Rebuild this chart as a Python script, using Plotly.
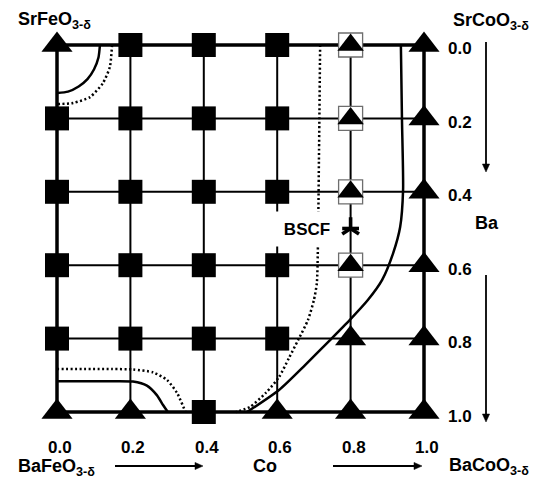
import plotly.graph_objects as go

# ---------------- data ----------------
co_levels = [0.0, 0.2, 0.4, 0.6, 0.8, 1.0]          # Co fraction (columns)
ba_levels = [0.0, 0.2, 0.4, 0.6, 0.8, 1.0]          # Ba fraction (rows, top -> bottom)
co_ticktext = ["0.0", "0.2", "0.4", "0.6", "0.8", "1.0"]
ba_ticktext = ["0.0", "0.2", "0.4", "0.6", "0.8", "1.0"]

# phase at each composition: S = filled square, T = triangle, B = triangle in open box
phase_rows = [
    ["T", "S", "S", "S", "B", "T"],   # Ba 0.0
    ["S", "S", "S", "S", "B", "T"],   # Ba 0.2
    ["S", "S", "S", "S", "B", "T"],   # Ba 0.4
    ["S", "S", "S", "S", "B", "T"],   # Ba 0.6
    ["S", "S", "S", "S", "T", "T"],   # Ba 0.8
    ["T", "T", "S", "T", "T", "T"],   # Ba 1.0
]

bscf_co = [0.8]
bscf_ba = [0.5]

# boundary curves (Co, Ba)
arc_solid_co = [0.117, 0.113, 0.101, 0.083, 0.059, 0.030, 0.0]
arc_solid_ba = [0.0, 0.034, 0.066, 0.093, 0.113, 0.127, 0.131]
arc_dot_co = [0.150, 0.144, 0.125, 0.090, 0.044, 0.0]
arc_dot_ba = [0.0, 0.060, 0.104, 0.142, 0.158, 0.161]

bl_solid_co = [0.0, 0.150, 0.207, 0.245, 0.272, 0.289, 0.302]
bl_solid_ba = [0.916, 0.916, 0.917, 0.928, 0.954, 0.981, 1.0]
bl_dot_co = [0.0, 0.150, 0.207, 0.262, 0.300, 0.327, 0.350]
bl_dot_ba = [0.883, 0.883, 0.884, 0.892, 0.913, 0.948, 1.0]

rs_co = [0.937, 0.940, 0.943, 0.935, 0.916, 0.886, 0.847, 0.798, 0.744, 0.676, 0.605, 0.518]
rs_ba = [0.0, 0.204, 0.395, 0.496, 0.567, 0.640, 0.695, 0.749, 0.804, 0.872, 0.940, 1.0]

rd_co = [0.717, 0.714, 0.711, 0.708, 0.700, 0.684, 0.657, 0.632, 0.605, 0.569, 0.526, 0.488]
rd_ba = [0.0, 0.286, 0.545, 0.649, 0.695, 0.749, 0.804, 0.853, 0.905, 0.948, 0.986, 1.0]

# ---------------- layout constants ----------------
W, H = 549, 479
PX = 367.0        # pixels per unit composition
OX, OY = 57.0, 45.0   # pixel position of Co=0 / Ba=0
FONT = "Liberation Sans, Arial, sans-serif"

def px(x):
    return x / W

def py(y):
    return 1 - y / H

fig = go.Figure()

# grid lines
inner_x, inner_y, border_x, border_y = [], [], [], []
for i, c in enumerate(co_levels):
    tx, ty = (border_x, border_y) if i in (0, len(co_levels) - 1) else (inner_x, inner_y)
    tx += [c, c, None]
    ty += [ba_levels[0], ba_levels[-1], None]
for j, b in enumerate(ba_levels):
    tx, ty = (border_x, border_y) if j in (0, len(ba_levels) - 1) else (inner_x, inner_y)
    tx += [co_levels[0], co_levels[-1], None]
    ty += [b, b, None]

fig.add_trace(go.Scatter(x=inner_x, y=inner_y, mode="lines",
                         line=dict(color="black", width=2), hoverinfo="skip"))
fig.add_trace(go.Scatter(x=border_x, y=border_y, mode="lines",
                         line=dict(color="black", width=3.5), hoverinfo="skip"))

# curves
DOT = "2px,2.5px"
for cx, cy, dash in [
    (arc_solid_co, arc_solid_ba, "solid"),
    (arc_dot_co, arc_dot_ba, DOT),
    (bl_solid_co, bl_solid_ba, "solid"),
    (bl_dot_co, bl_dot_ba, DOT),
    (rs_co, rs_ba, "solid"),
    (rd_co, rd_ba, DOT),
]:
    fig.add_trace(go.Scatter(x=cx, y=cy, mode="lines",
                             line=dict(color="black", width=2.5, dash=dash,
                                       shape="spline", smoothing=0.6),
                             hoverinfo="skip"))

# markers
sq_x, sq_y, tr_x, tr_y, bx_x, bx_y = [], [], [], [], [], []
for j, row in enumerate(phase_rows):
    for i, code in enumerate(row):
        c, b = co_levels[i], ba_levels[j]
        if code == "S":
            sq_x.append(c); sq_y.append(b)
        elif code == "T":
            tr_x.append(c); tr_y.append(b)
        else:
            bx_x.append(c); bx_y.append(b)

fig.add_trace(go.Scatter(x=sq_x, y=sq_y, mode="markers", cliponaxis=False,
                         marker=dict(symbol="square", size=24, color="black",
                                     line=dict(width=0))))
fig.add_trace(go.Scatter(x=bx_x, y=bx_y, mode="markers", cliponaxis=False,
                         marker=dict(symbol="square", size=24, color="white",
                                     line=dict(width=1.3, color="#6e6e6e"))))
fig.add_trace(go.Scatter(x=bx_x, y=bx_y, mode="markers", cliponaxis=False,
                         marker=dict(symbol="triangle-up", size=23, color="black",
                                     line=dict(width=0))))
fig.add_trace(go.Scatter(x=tr_x, y=tr_y, mode="markers", cliponaxis=False,
                         marker=dict(symbol="triangle-up", size=27, color="black",
                                     line=dict(width=0))))

# BSCF asterisk
for sym, sz in (("y-up-open", 14), ("line-ew-open", 12)):
    fig.add_trace(go.Scatter(x=bscf_co, y=bscf_ba, mode="markers",
                             marker=dict(symbol=sym, size=sz, color="black",
                                         line=dict(width=3.6, color="black"))))

ann = []
tfont = dict(family=FONT, size=17, color="black", weight="bold")
nfont = dict(family=FONT, size=18, color="black", weight="bold")

# bottom tick labels (Co)
for c, t in zip(co_levels, co_ticktext):
    ann.append(dict(x=px(OX + c * PX + 3), y=py(447), xref="paper", yref="paper",
                    text=t, showarrow=False, xanchor="center", yanchor="middle",
                    font=tfont))
# right tick labels (Ba)
for b, t in zip(ba_levels, ba_ticktext):
    ann.append(dict(x=px(460), y=py(OY + b * PX + 4), xref="paper", yref="paper",
                    text=t, showarrow=False, xanchor="center", yanchor="middle",
                    font=tfont))

# compound names and axis names
for txt, x, y in [
    ("SrFeO<sub>3-δ</sub>", 16, 21),
    ("SrCoO<sub>3-δ</sub>", 451, 22),
    ("BaFeO<sub>3-δ</sub>", 16, 467),
    ("BaCoO<sub>3-δ</sub>", 447, 466),
]:
    ann.append(dict(x=px(x), y=py(y), xref="paper", yref="paper", text=txt,
                    showarrow=False, xanchor="left", yanchor="middle", font=nfont))

ann.append(dict(x=px(265), y=py(466), xref="paper", yref="paper", text="Co",
                showarrow=False, xanchor="center", yanchor="middle", font=nfont))
ann.append(dict(x=px(487), y=py(223), xref="paper", yref="paper", text="Ba",
                showarrow=False, xanchor="center", yanchor="middle", font=nfont))

# BSCF label with white background
ann.append(dict(x=px(307), y=py(229), xref="paper", yref="paper", text="BSCF",
                showarrow=False, xanchor="center", yanchor="middle",
                bgcolor="white", width=62, height=32, font=tfont))

# arrows drawn as shapes: (tail x, tail y, head x, head y) in pixels
shapes = []
HL, HW = 8.0, 3.6
for x0, y0, x1, y1 in [
    (486, 42, 486, 172),
    (486, 275, 486, 422),
    (115, 466, 203, 466),
    (333, 466, 422, 466),
]:
    if x0 == x1:
        bx, by = x1, y1 - HL
        tri = [(bx - HW, by), (bx + HW, by), (x1, y1)]
    else:
        bx, by = x1 - HL, y1
        tri = [(bx, by - HW), (bx, by + HW), (x1, y1)]
    shapes.append(dict(type="line", xref="paper", yref="paper",
                       x0=px(x0), y0=py(y0), x1=px(bx), y1=py(by),
                       line=dict(color="black", width=1.8)))
    path = "M {} {} L {} {} L {} {} Z".format(*[v for p in tri for v in (px(p[0]), py(p[1]))])
    shapes.append(dict(type="path", xref="paper", yref="paper", path=path,
                       fillcolor="black", line=dict(color="black", width=0.5)))

fig.update_layout(
    width=W, height=H, margin=dict(l=0, r=0, t=0, b=0),
    paper_bgcolor="white", plot_bgcolor="white", showlegend=False,
    xaxis=dict(visible=False, range=[-OX / PX, (W - OX) / PX], fixedrange=True),
    yaxis=dict(visible=False, range=[(H - OY) / PX, -OY / PX], fixedrange=True),
    annotations=ann, shapes=shapes,
)

fig.write_html("out.html")
